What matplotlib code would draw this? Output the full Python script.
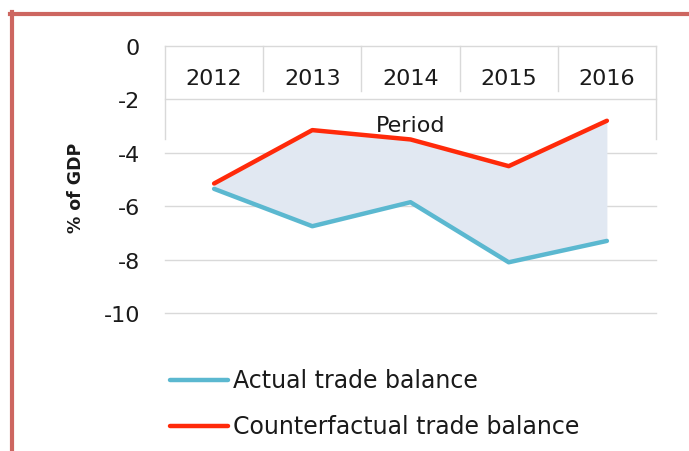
import matplotlib.pyplot as plt
from matplotlib.lines import Line2D
import numpy as np

# Datos
years = ["2012", "2013", "2014", "2015", "2016"]
actual = [-5.35, -6.75, -5.85, -8.1, -7.3]
counterfactual = [-5.15, -3.15, -3.5, -4.5, -2.8]
yticks = [0, -2, -4, -6, -8, -10]

plt.rcParams['font.family'] = ['DejaVu Sans']
FS = 17

fig = plt.figure(figsize=(6.89, 4.52), dpi=100)
W, H = 689, 452
ax = fig.add_axes([165 / W, 1 - 314 / H, (656 - 165) / W, (314 - 47) / H])

x = np.arange(len(years)) + 0.5
ax.set_xlim(0, len(years))
ax.set_ylim(-10, 0)

# rejilla horizontal
for v in yticks:
    ax.axhline(v, color='#d9d9d9', lw=1, zorder=0, clip_on=False)

# separadores de categorias
for i in range(len(years) + 1):
    bottom = -3.5 if i in (0, len(years)) else -1.7
    ax.plot([i, i], [0, bottom], color='#d9d9d9', lw=1, zorder=0, clip_on=False)

ax.fill_between(x, actual, counterfactual, color='#e1e8f2', lw=0, zorder=1)
ax.plot(x, actual, color='#5bb8d0', lw=3.2, solid_capstyle='round', zorder=3,
        label='Actual trade balance')
ax.plot(x, counterfactual, color='#ff2a0a', lw=3.2, solid_capstyle='round', zorder=3,
        label='Counterfactual trade balance')

for xi, yr in zip(x, years):
    ax.text(xi, -1.2, yr, ha='center', va='center', fontsize=16, color='#1a1a1a')
ax.text(len(years) / 2, -2.95, 'Period', ha='center', va='center', fontsize=16,
        color='#1a1a1a')

ax.set_xticks([])
ax.set_yticks(yticks)
ax.set_yticklabels([str(v) for v in yticks], fontsize=16, color='#1a1a1a')
ax.tick_params(axis='y', length=0, pad=18)
for s in ax.spines.values():
    s.set_visible(False)

fig.text(76 / W, 1 - 188 / H, '% of GDP', rotation=90, ha='center', va='center',
         fontsize=12.5, fontweight='bold', color='#1a1a1a')

# leyenda
for yy, col, lab in [(381, '#5bb8d0', 'Actual trade balance'),
                     (427, '#ff2a0a', 'Counterfactual trade balance')]:
    fig.add_artist(Line2D([170 / W, 228 / W], [1 - yy / H, 1 - yy / H], color=col,
                          lw=3.2, solid_capstyle='round'))
    fig.text(233 / W, 1 - yy / H, lab, ha='left', va='center', fontsize=FS,
             color='#1a1a1a')

# marco
fig.add_artist(Line2D([12 / W, 12 / W], [0, 1 - 13 / H], color='#cd6660', lw=3))
fig.add_artist(Line2D([10 / W, 1], [1 - 15 / H, 1 - 15 / H], color='#cd6660', lw=3))

fig.savefig('out.png', dpi=100)
